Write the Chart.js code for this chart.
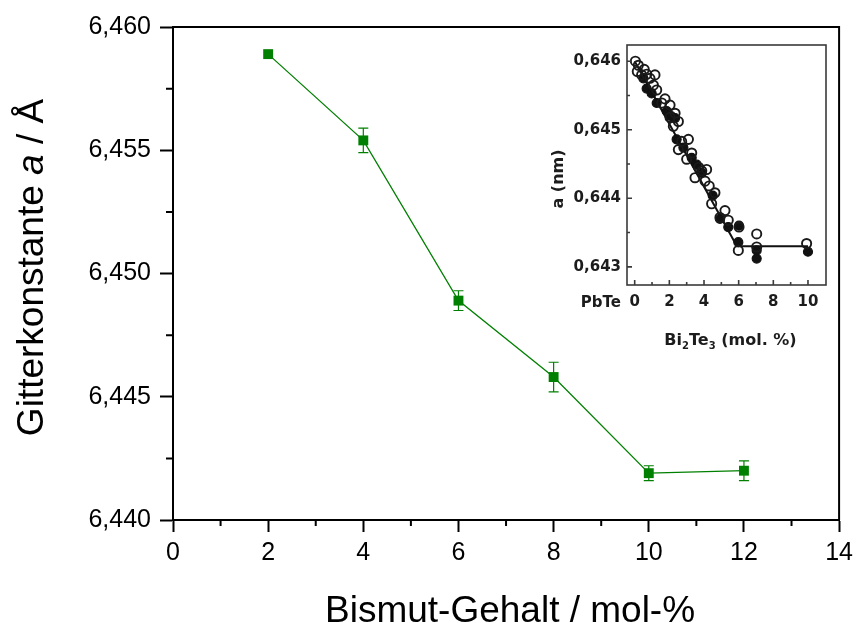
<!DOCTYPE html>
<html>
<head>
<meta charset="utf-8">
<script src="https://cdn.jsdelivr.net/npm/chart.js@4"></script>
<style>
  html, body { margin: 0; padding: 0; background: #fff; }
  #wrap { position: relative; width: 859px; height: 623px; overflow: hidden; }
  #main { position: absolute; left: 0; top: 0; }
  #inset { position: absolute; left: 540px; top: 30px; filter: blur(0.45px); }
</style>
</head>
<body>
<div id="wrap">
  <canvas id="main" width="859" height="623" style="width:859px;height:623px"></canvas>
  <canvas id="inset" width="300" height="330" style="width:300px;height:330px"></canvas>
</div>
<script>
// ---- main plot: lattice constant vs. bismuth content ----
const bismutGehalt = [2, 4, 6, 8, 10, 12];                         // mol-%
const gitterkonstante = [6.4589, 6.4554, 6.4489, 6.4458, 6.4419, 6.4420]; // Å
const gitterFehler = [0, 0.0005, 0.0004, 0.0006, 0.0003, 0.0004];  // ± Å
const xTicksMain = [0, 2, 4, 6, 8, 10, 12, 14];
const xMinorMain = [1, 3, 5, 7, 9, 11, 13];
const yTicksMain = [6.440, 6.445, 6.450, 6.455, 6.460];
const yMinorMain = [6.4425, 6.4475, 6.4525, 6.4575];
const xTitleMain = 'Bismut-Gehalt / mol-%';
const yTitleParts = [['Gitterkonstante ', false], ['a', true], [' / Å', false]];

// ---- inset: literature data, a (nm) vs. Bi2Te3 content ----
const insetOpenX = [0.04, 0.21, 0.15, 0.40, 0.55, 0.69, 0.88, 1.17, 1.08, 1.27, 1.56, 1.75, 2.04, 2.04, 2.33, 2.23,
                    2.52, 2.52, 2.71, 3.00, 3.10, 3.29, 3.48, 3.70, 3.87, 4.06, 4.15, 4.30, 4.44, 4.63, 4.92, 5.21,
                    5.40, 5.98, 6.02, 7.04, 7.04, 9.92];
const insetOpenA = [0.64600, 0.64594, 0.64585, 0.64580, 0.64588, 0.64581, 0.64575, 0.64580, 0.64565, 0.64558,
                    0.64539, 0.64545, 0.64536, 0.64518, 0.64524, 0.64505, 0.64512, 0.64471, 0.64483, 0.64457,
                    0.64486, 0.64466, 0.64430, 0.64445, 0.64440, 0.64425, 0.64442, 0.64418, 0.64392, 0.64408,
                    0.64372, 0.64382, 0.64368, 0.64324, 0.64358, 0.64348, 0.64329, 0.64334];
const insetFilledX = [0.50, 0.69, 0.98, 1.27, 1.85, 2.10, 2.33, 2.42, 2.81, 3.29, 3.58, 3.87, 4.50, 4.92, 5.40,
                      5.98, 6.02, 7.04, 7.04, 10.0];
const insetFilledA = [0.64575, 0.64560, 0.64553, 0.64539, 0.64527, 0.64520, 0.64517, 0.64486, 0.64474, 0.64459,
                      0.64449, 0.64437, 0.64404, 0.64370, 0.64358, 0.64336, 0.64360, 0.64312, 0.64324, 0.64322];
const insetFitX = [0, 5.9, 10];
const insetFitA = [0.64600, 0.64330, 0.64330];
const xTicksInset = [0, 2, 4, 6, 8, 10];
const xMinorInset = [1, 3, 5, 7, 9];
const yTicksInset = [0.643, 0.644, 0.645, 0.646];
const yMinorInset = [0.6435, 0.6445, 0.6455];

const GREEN = '#008000';
const ARIAL = '"Liberation Sans", Arial, Helvetica, sans-serif';
const BOLDF = '"DejaVu Sans", Verdana, sans-serif';
const comma = (v, d) => Number(v).toFixed(d).replace('.', ',');
const pts = (xs, ys) => xs.map((x, i) => ({ x: x, y: ys[i] }));

// frame, minor ticks, error bars and axis titles for the main plot
const mainDecor = {
  id: 'mainDecor',
  beforeDatasetsDraw(chart) {
    const { ctx, scales: { x, y } } = chart;
    ctx.save();
    ctx.strokeStyle = GREEN;
    ctx.lineWidth = 1.2;
    bismutGehalt.forEach((b, i) => {
      const e = gitterFehler[i];
      if (!e) return;
      const px = x.getPixelForValue(b);
      const top = y.getPixelForValue(gitterkonstante[i] + e);
      const bot = y.getPixelForValue(gitterkonstante[i] - e);
      ctx.beginPath();
      ctx.moveTo(px, top); ctx.lineTo(px, bot);
      ctx.moveTo(px - 5, top); ctx.lineTo(px + 5, top);
      ctx.moveTo(px - 5, bot); ctx.lineTo(px + 5, bot);
      ctx.stroke();
    });
    ctx.restore();
  },
  afterDraw(chart) {
    const { ctx, chartArea: ca, scales: { x, y } } = chart;
    ctx.save();
    ctx.strokeStyle = '#000';
    ctx.lineWidth = 2;
    // top and right frame
    ctx.beginPath();
    ctx.moveTo(ca.left, ca.top); ctx.lineTo(ca.right, ca.top); ctx.lineTo(ca.right, ca.bottom);
    ctx.stroke();
    // minor ticks
    ctx.beginPath();
    xMinorMain.forEach(v => {
      const px = x.getPixelForValue(v);
      ctx.moveTo(px, ca.bottom); ctx.lineTo(px, ca.bottom + 6);
    });
    yMinorMain.forEach(v => {
      const py = y.getPixelForValue(v);
      ctx.moveTo(ca.left - 7, py); ctx.lineTo(ca.left, py);
    });
    ctx.stroke();
    // axis titles
    ctx.fillStyle = '#000';
    ctx.font = '37px ' + ARIAL;
    ctx.textAlign = 'center';
    ctx.textBaseline = 'alphabetic';
    ctx.fillText(xTitleMain, (ca.left + ca.right) / 2 + 4, chart.height - 1);
    ctx.translate(43, (ca.top + ca.bottom) / 2 - 6);
    ctx.rotate(-Math.PI / 2);
    ctx.textAlign = 'left';
    const fonts = yTitleParts.map(p => (p[1] ? 'italic ' : '') + '37px ' + ARIAL);
    let total = 0;
    yTitleParts.forEach((p, i) => { ctx.font = fonts[i]; total += ctx.measureText(p[0]).width; });
    let cx = -total / 2;
    yTitleParts.forEach((p, i) => {
      ctx.font = fonts[i];
      ctx.fillText(p[0], cx, 0);
      cx += ctx.measureText(p[0]).width;
    });
    ctx.restore();
  }
};

new Chart(document.getElementById('main'), {
  type: 'line',
  data: {
    datasets: [{
      data: pts(bismutGehalt, gitterkonstante),
      borderColor: GREEN,
      borderWidth: 1.3,
      backgroundColor: GREEN,
      pointStyle: 'rect',
      pointRadius: 7,
      pointBorderWidth: 0,
      pointBackgroundColor: GREEN,
      tension: 0
    }]
  },
  options: {
    responsive: false,
    animation: false,
    events: [],
    layout: { padding: { top: 27, right: 19, left: 0, bottom: 0 } },
    plugins: { legend: { display: false }, tooltip: { enabled: false }, title: { display: false } },
    scales: {
      x: {
        type: 'linear', position: 'bottom', min: 0, max: 14,
        afterBuildTicks: s => { s.ticks = xTicksMain.map(v => ({ value: v })); },
        afterFit: s => { s.height = 103; },
        ticks: { color: '#000', font: { family: ARIAL, size: 25 }, padding: 6, maxRotation: 0,
                 callback: v => String(v) },
        grid: { drawOnChartArea: false, drawTicks: true, tickLength: 12, tickWidth: 2, tickColor: '#000' },
        border: { display: true, color: '#000', width: 2 }
      },
      y: {
        type: 'linear', position: 'left', min: 6.440, max: 6.460,
        afterBuildTicks: s => { s.ticks = yTicksMain.map(v => ({ value: v })); },
        afterFit: s => { s.width = 173; },
        ticks: { color: '#000', font: { family: ARIAL, size: 25 }, padding: 9,
                 callback: v => comma(v, 3) },
        grid: { drawOnChartArea: false, drawTicks: true, tickLength: 13, tickWidth: 2, tickColor: '#000' },
        border: { display: true, color: '#000', width: 2 }
      }
    }
  },
  plugins: [mainDecor]
});

// frame, inward ticks and labels for the inset
const INK = '#1c1c1c';
const insetDecor = {
  id: 'insetDecor',
  afterDraw(chart) {
    const { ctx, chartArea: ca, scales: { x, y } } = chart;
    ctx.save();
    ctx.strokeStyle = '#3a3a3a';
    ctx.lineWidth = 1.6;
    ctx.strokeRect(ca.left, ca.top, ca.right - ca.left, ca.bottom - ca.top);
    ctx.beginPath();
    xTicksInset.forEach(v => { const p = x.getPixelForValue(v); ctx.moveTo(p, ca.bottom); ctx.lineTo(p, ca.bottom - 5); });
    xMinorInset.forEach(v => { const p = x.getPixelForValue(v); ctx.moveTo(p, ca.bottom); ctx.lineTo(p, ca.bottom - 3); });
    yTicksInset.forEach(v => { const p = y.getPixelForValue(v); ctx.moveTo(ca.left, p); ctx.lineTo(ca.left + 5, p); });
    yMinorInset.forEach(v => { const p = y.getPixelForValue(v); ctx.moveTo(ca.left, p); ctx.lineTo(ca.left + 3, p); });
    ctx.stroke();

    ctx.fillStyle = INK;
    ctx.font = 'bold 15px ' + BOLDF;
    ctx.textBaseline = 'middle';
    ctx.textAlign = 'right';
    ctx.fillText('PbTe', ca.left - 6, ca.bottom + 18);

    // x title with subscripts
    const parts = [['Bi', 0], ['2', 1], ['Te', 0], ['3', 1], [' (mol. %)', 0]];
    const fn = s => (s ? 'bold 10px ' : 'bold 16px ') + BOLDF;
    let w = 0;
    parts.forEach(p => { ctx.font = fn(p[1]); w += ctx.measureText(p[0]).width; });
    let cx = (ca.left + ca.right) / 2 + 4 - w / 2;
    ctx.textAlign = 'left';
    ctx.textBaseline = 'alphabetic';
    parts.forEach(p => {
      ctx.font = fn(p[1]);
      ctx.fillText(p[0], cx, 315 + (p[1] ? 4 : 0));
      cx += ctx.measureText(p[0]).width;
    });

    // y title
    ctx.translate(23, (ca.top + ca.bottom) / 2 + 14);
    ctx.rotate(-Math.PI / 2);
    ctx.font = 'bold 16px ' + BOLDF;
    ctx.textAlign = 'center';
    ctx.fillText('a (nm)', 0, 0);
    ctx.restore();
  }
};

new Chart(document.getElementById('inset'), {
  type: 'scatter',
  data: {
    datasets: [
      {
        type: 'line',
        data: pts(insetFitX, insetFitA),
        borderColor: '#111', borderWidth: 2, pointRadius: 0, tension: 0, order: 3
      },
      {
        data: pts(insetFilledX, insetFilledA),
        pointStyle: 'circle', pointRadius: 4.5, pointBorderWidth: 1.2,
        pointBorderColor: '#111', pointBackgroundColor: '#111', order: 2
      },
      {
        data: pts(insetOpenX, insetOpenA),
        pointStyle: 'circle', pointRadius: 4.6, pointBorderWidth: 1.9,
        pointBorderColor: '#1a1a1a', pointBackgroundColor: 'rgba(255,255,255,0)', order: 1
      }
    ]
  },
  options: {
    responsive: false,
    animation: false,
    events: [],
    layout: { padding: { top: 13, right: 14, left: 0, bottom: 0 } },
    plugins: { legend: { display: false }, tooltip: { enabled: false } },
    scales: {
      x: {
        type: 'linear', position: 'bottom', min: -0.444, max: 11.04,
        afterBuildTicks: s => { s.ticks = xTicksInset.map(v => ({ value: v })); },
        afterFit: s => { s.height = 75; },
        ticks: { color: INK, font: { family: BOLDF, size: 15, weight: 'bold' }, padding: 8, maxRotation: 0,
                 callback: v => String(v) },
        grid: { display: false, drawTicks: false },
        border: { display: false }
      },
      y: {
        type: 'linear', position: 'left', min: 0.642735, max: 0.646236,
        afterBuildTicks: s => { s.ticks = yTicksInset.map(v => ({ value: v })); },
        afterFit: s => { s.width = 87; },
        ticks: { color: INK, font: { family: BOLDF, size: 15, weight: 'bold' }, padding: 6,
                 callback: v => comma(v, 3) },
        grid: { display: false, drawTicks: false },
        border: { display: false }
      }
    }
  },
  plugins: [insetDecor]
});
</script>
</body>
</html>
